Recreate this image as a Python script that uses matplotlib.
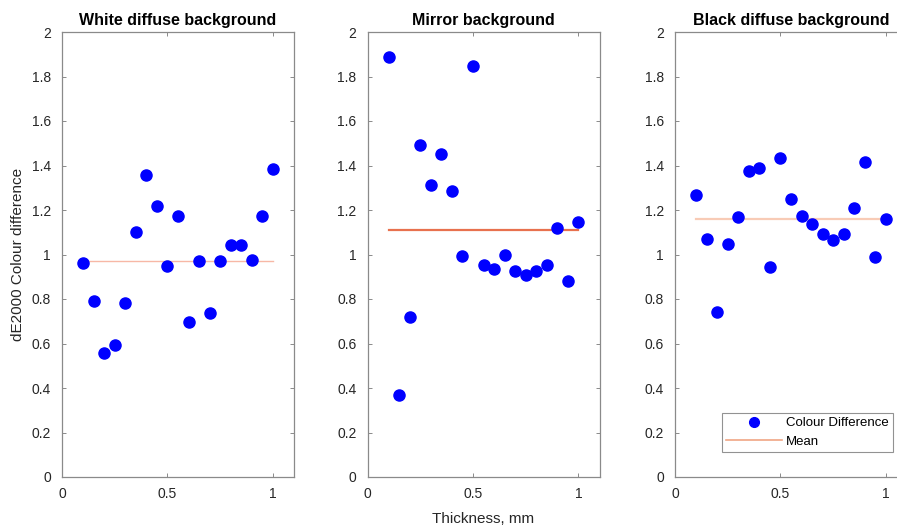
import numpy as np
import matplotlib
matplotlib.use("Agg")
import matplotlib.pyplot as plt
from matplotlib.ticker import FuncFormatter
from matplotlib.lines import Line2D

plt.rcParams['font.family'] = ['Liberation Sans', 'DejaVu Sans']

thickness = [0.10, 0.15, 0.20, 0.25, 0.30, 0.35, 0.40, 0.45, 0.50, 0.55,
             0.60, 0.65, 0.70, 0.75, 0.80, 0.85, 0.90, 0.95, 1.00]

white_de = [0.96, 0.789, 0.559, 0.592, 0.782, 1.099, 1.357, 1.22, 0.948, 1.172,
            0.695, 0.972, 0.735, 0.972, 1.043, 1.043, 0.975, 1.175, 1.384]
mirror_de = [1.888, 0.368, 0.719, 1.492, 1.312, 1.45, 1.287, 0.992, 1.846, 0.951,
             0.937, 0.999, 0.924, 0.910, 0.924, 0.951, 1.121, 0.883, 1.148]
black_de = [1.269, 1.070, 0.741, 1.046, 1.169, 1.374, 1.387, 0.945, 1.435, 1.251,
            1.172, 1.136, 1.090, 1.066, 1.093, 1.208, 1.417, 0.988, 1.161]

titles = ["White diffuse background", "Mirror background", "Black diffuse background"]
series = [white_de, mirror_de, black_de]
mean_colors = ['#f7b8a6', '#e8714e', '#f8cbb6']
mean_widths = [1.0, 1.6, 1.6]

W, H = 897, 528
fig = plt.figure(figsize=(W / 100, H / 100), dpi=100)

lefts_px = [62, 367.5, 675]
ax_w_px = 232
bottom_px = 477
top_px = 32

axes = []
for i in range(3):
    ax = fig.add_axes([lefts_px[i] / W, (H - bottom_px) / H,
                       ax_w_px / W, (bottom_px - top_px) / H])
    axes.append(ax)
    y = series[i]
    ax.plot(thickness, y, 'o', color='#0000ff', ms=8, mec='#0000ff', zorder=3)
    m = np.mean(y)
    ax.plot([thickness[0], thickness[-1]], [m, m], '-', color=mean_colors[i],
            lw=mean_widths[i], zorder=2)
    ax.set_xlim(0, 1.1)
    ax.set_ylim(0, 2)
    ax.set_xticks([0, 0.5, 1])
    ax.set_yticks(np.arange(0, 2.01, 0.2))
    fmt = FuncFormatter(lambda v, p: '%g' % round(v, 2))
    ax.xaxis.set_major_formatter(fmt)
    ax.yaxis.set_major_formatter(fmt)
    ax.tick_params(direction='in', length=3, width=0.6, colors='#777777',
                   labelcolor='#262626', labelsize=10, top=True, right=True)
    ax.tick_params(axis='x', pad=7)
    ax.tick_params(axis='y', pad=8)
    for s in ax.spines.values():
        s.set_color('#8a8a8a')
        s.set_linewidth(0.9)
    ax.set_title(titles[i], fontsize=11.5, fontweight='bold', pad=5, color='black')

axes[0].set_ylabel("dE2000 Colour difference", fontsize=11, color='#262626', labelpad=5)
axes[1].set_xlabel("Thickness, mm", fontsize=11, color='#262626', labelpad=8)

handles = [Line2D([], [], ls='none', marker='o', color='#0000ff', ms=7),
           Line2D([], [], ls='-', color='#f0a584', lw=1.2)]
leg = fig.legend(handles, ["Colour Difference", "Mean"], loc='lower right',
                 bbox_to_anchor=(893 / W, (H - 452) / H), fontsize=9.5,
                 frameon=True, fancybox=False, edgecolor='#777777',
                 handlelength=4.2, borderpad=0.3, labelspacing=0.5,
                 handletextpad=0.35, borderaxespad=0)
leg.get_frame().set_linewidth(0.8)

fig.savefig("out.png", dpi=100)
